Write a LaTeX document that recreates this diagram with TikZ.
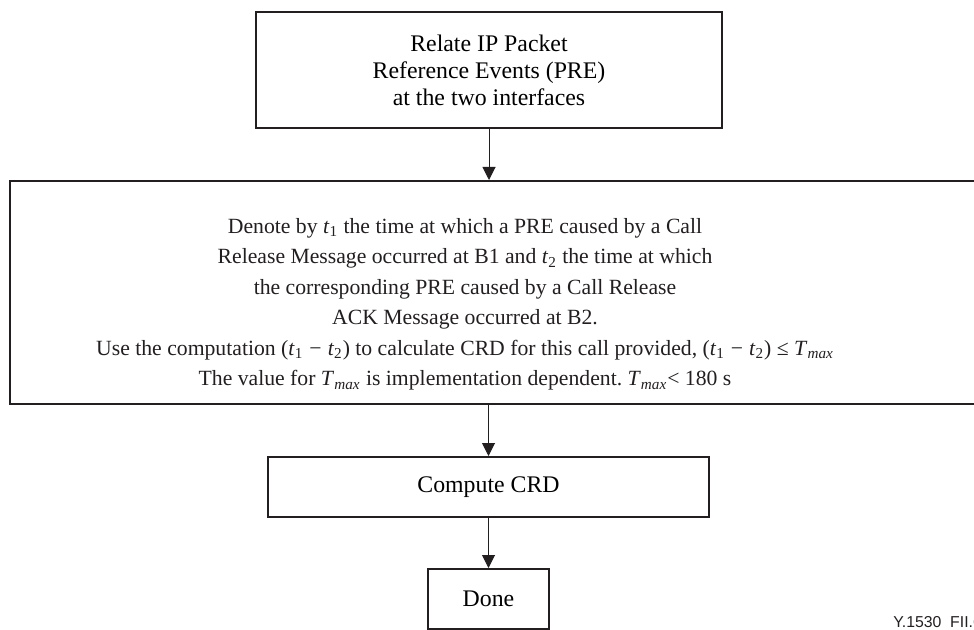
\documentclass[tikz,border=0pt]{standalone}
\usepackage{fontspec}
\setmainfont{Liberation Serif}
\newfontfamily\labelfont{Liberation Sans}
\usetikzlibrary{arrows.meta}
\definecolor{ink}{HTML}{231F20}

\begin{document}
\frenchspacing
\begin{tikzpicture}[x=0.5pt,y=-0.5pt,
  box/.style={draw=ink, line width=1pt, inner sep=0pt, align=center,
              font=\fontsize{11.9}{13.5}\selectfont},
  plain/.style={inner sep=0pt, align=center, text=ink},
  flow/.style={draw=ink, line width=0.5pt,
               -{Triangle[length=6.5pt,width=6.5pt]}}]
\useasboundingbox (0,0) rectangle (974,630);
\clip (0,0) rectangle (974,630);

% process steps
\node[box, minimum width=233pt, minimum height=58pt] (relate) at (489,70)
  {Relate IP Packet\\Reference Events (PRE)\\at the two interfaces};

\node[box, minimum width=495pt, minimum height=111.5pt] (release) at (505,292.5) {};
\node[plain, font=\fontsize{10.85}{15.25}\selectfont] (reltext) at (465,304.5)
  {Denote by \textit{t}\textsubscript{1} the time at which a PRE caused by a Call\\
   Release Message occurred at B1 and \textit{t}\textsubscript{2} the time at which\\
   the corresponding PRE caused by a Call Release\\
   ACK Message occurred at B2.\\
   Use the computation (\textit{t}\textsubscript{1}\;−\;\textit{t}\textsubscript{2}) to calculate CRD for this call provided, (\textit{t}\textsubscript{1}\;−\;\textit{t}\textsubscript{2}) ≤ \textit{T}\textsubscript{\textit{max}}\\
   The value for \textit{T}\textsubscript{\textit{max}} is implementation dependent. \textit{T}\textsubscript{\textit{max}}< 180 s};

\node[box, minimum width=220.5pt, minimum height=30pt] (crd) at (488.5,487) {Compute CRD};
\node[box, minimum width=60.5pt, minimum height=30pt] (done) at (488.5,599) {Done};

% connectors
\draw[flow] (relate.south) -- (relate.south |- release.north);
\draw[flow] (crd.north |- release.south) -- (crd.north);
\draw[flow] (crd.south) -- (done.north);

% figure tag
\node[anchor=base west, inner sep=0pt, text=ink,
      font=\labelfont\fontsize{7.9}{9}\selectfont] (tag) at (893,627) {Y.1530\ \ FII.6};
\end{tikzpicture}
\end{document}
